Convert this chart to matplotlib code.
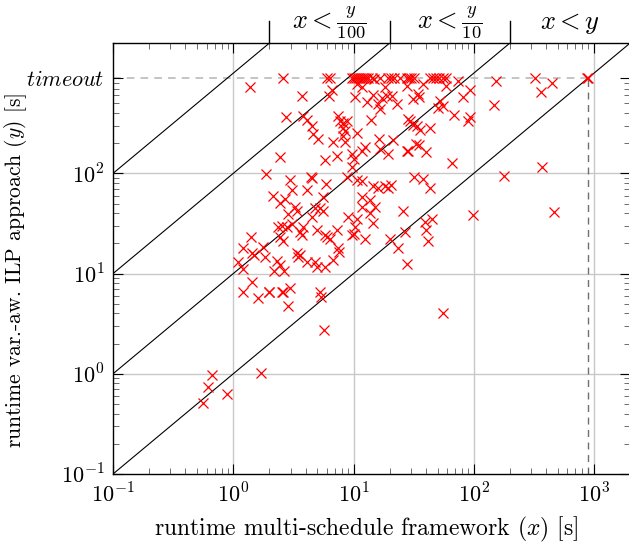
import numpy as np
import matplotlib
matplotlib.use("Agg")
import matplotlib.pyplot as plt
from matplotlib.ticker import FixedLocator, LogLocator, NullFormatter
import matplotlib.transforms as mtransforms

plt.rcParams['mathtext.fontset'] = 'cm'
plt.rcParams['axes.formatter.use_mathtext'] = True

# ---- data ----
TIMEOUT = 900
XMIN, XMAX = 0.1, 2000
YMIN, YMAX = 0.1, 2000

x_vals = [
    # timeouts
    2.6, 6.0, 6.4, 9.7, 10.1, 10.5, 10.9, 11.3, 11.8, 12.2, 12.7, 13.2, 14.2, 16.6, 19.3,
    20.5, 21.7, 24.3, 27.8, 28.9, 30, 31.8, 43, 45.7, 48.4, 51.3, 55.4, 58.7, 322, 870, 900,
    # upper region
    74, 152, 446, 362, 1.37, 3.7, 6.2, 6.6, 10.3, 10.7, 11.8, 12.9, 14.5, 15.9, 16.6, 17.2,
    18.9, 20.8, 22.9, 18.2, 14.9, 27.8, 38, 59, 34.5, 35.3, 31.5, 93, 81, 147, 52, 55, 50,
    68, 93, 89, 28.3, 29.5, 31, 33.5, 35.6, 43, 35, 40, 33, 28.3, 66, 32, 38, 43, 178, 370,
    466, 98, 26, 39, 45, 40, 41.5, 27, 28, 55,
    # middle-left
    2.74, 2.44, 1.87, 2.96, 3.8, 4.1, 4.5, 4.6, 5.1, 7.4, 7.7, 8.2, 8.8, 8.2, 8.5, 8.2, 8.5,
    6.7, 10.7, 14, 7.3, 5.8, 9.7, 10, 9.7, 11.7, 12.4, 16.3, 16.6, 19.3, 21.2, 27.8, 4.4,
    4.5, 5.9, 4.1, 8.8, 10.7, 11.7, 14.5, 16, 18.2, 19.3, 20.5,
    # middle
    2.14, 2.7, 2.44, 3.07, 2.85, 3.25, 3.4, 2.35, 2.54, 2.8, 3.1, 3.6, 3.8, 3.7, 2.44, 2.6,
    1.4, 1.2, 1.43, 1.5, 1.77, 1.83, 1.1, 1.2, 2.3, 2.45, 2.2, 2.65, 3.4, 3.45, 5.6, 4.8,
    5.3, 5.6, 4.5, 9, 10.7, 10.3, 10, 9.7, 12.4, 11.7, 13.6, 15, 11.7, 13.6, 14.5, 5, 5.8,
    6, 6.4, 7.3, 7.4, 7.6, 3.6, 4.1, 4.8, 5, 5.8, 6.7, 20, 23.4,
    # low
    1.43, 1.2, 1.6, 1.98, 2.0, 2.55, 2.6, 2.95, 2.85, 5.3, 5.4, 5.7, 0.665, 0.62, 0.89,
    0.56, 1.7,
]
y_vals = [
    # timeouts
    900, 900, 900, 900, 900, 900, 900, 900, 900, 900, 900, 900, 900, 900, 900,
    900, 900, 900, 900, 900, 900, 900, 900, 900, 900, 900, 900, 900, 900, 900, 900,
    # upper region
    830, 830, 794, 646, 725, 590, 590, 676, 575, 776, 725, 513, 600, 490, 437, 562,
    590, 590, 490, 725, 870, 740, 775, 740, 616, 575, 550, 676, 575, 478, 525, 465, 447,
    380, 363, 330, 347, 330, 302, 295, 269, 285, 191, 162, 195, 166, 126, 91, 87, 71, 95, 117,
    41, 38, 42, 33, 35, 27.5, 21, 26, 12.6, 4.0,
    # middle-left
    363, 145, 98, 85, 372, 340, 295, 245, 219, 372, 330, 316, 330, 282, 263, 234, 204,
    204, 251, 340, 148, 135, 155, 138, 117, 166, 182, 219, 174, 155, 214, 166, 93,
    89, 78, 69, 91, 85, 83, 74, 72, 74, 71, 76,
    # middle
    60, 55, 51, 68, 39, 46, 42, 29, 30, 29, 31, 26, 29, 24.5, 23.4, 21,
    23, 18, 16, 15.5, 18.6, 14.5, 12.9, 11, 13.2, 12.3, 10.5, 10.5, 16.2, 14.8, 57.5, 45,
    45, 42, 37, 37, 35, 29, 25, 24.5, 22, 57.5, 53.7, 46, 46, 40, 32, 27.5, 24.5,
    23.4, 22, 27, 18, 16.6, 15.5, 12.9, 12.9, 11.7, 11.7, 13.8, 22, 18,
    # low
    8.3, 6.6, 5.75, 6.6, 6.5, 6.6, 6.5, 7.1, 4.7, 6.5, 5.9, 2.75, 0.98, 0.74, 0.63,
    0.51, 1.02,
]

diag_ratios = [1, 10, 100, 1000]          # y = ratio * x
region_labels = [r'$x < \frac{y}{100}$', r'$x < \frac{y}{10}$', r'$x < y$']
x_ticks = [0.1, 1, 10, 100, 1000]
x_ticklabels = [r'$10^{-1}$', r'$10^{0}$', r'$10^{1}$', r'$10^{2}$', r'$10^{3}$']
y_ticks = [0.1, 1, 10, 100, TIMEOUT]
y_ticklabels = [r'$10^{-1}$', r'$10^{0}$', r'$10^{1}$', r'$10^{2}$', r'$\mathit{timeout}$']
grid_x = [1, 10, 100, 1000]
grid_y = [1, 10, 100]

# ---- figure ----
fig = plt.figure(figsize=(6.29, 5.43), dpi=100)
ax = fig.add_axes([0.1797, 0.1271, 0.8222, 0.7937])
ax.set_xscale('log')
ax.set_yscale('log')
ax.set_xlim(XMIN, XMAX)
ax.set_ylim(YMIN, YMAX)

grid_color = '#c8c8c8'
for g in grid_x:
    ax.axvline(g, color=grid_color, lw=1.0, zorder=0)
for g in grid_y:
    ax.axhline(g, color=grid_color, lw=1.0, zorder=0)

# timeout lines
ax.plot([XMIN, TIMEOUT], [TIMEOUT, TIMEOUT], ls=(0, (5, 4)), color='#b4b4b4', lw=1.1, zorder=1)
ax.plot([TIMEOUT, TIMEOUT], [YMIN, TIMEOUT], ls=(0, (5, 4)), color='#707070', lw=1.0, zorder=1)

# diagonals
xs = np.array([XMIN, XMAX])
for r in diag_ratios:
    ax.plot(xs, r * xs, color='black', lw=0.8, zorder=2)

ax.plot(x_vals, y_vals, linestyle='none', marker='x', color='#ff0000',
        markersize=6.5, markeredgewidth=0.9, zorder=3)

# top region markers
trans = mtransforms.blended_transform_factory(ax.transData, ax.transAxes)
bounds = [YMAX / r for r in diag_ratios[::-1]][:3]   # 2, 20, 200
for b in bounds:
    ax.plot([b, b], [1.0, 1.05], color='black', lw=1.0, transform=trans, clip_on=False)
edges = bounds + [XMAX]
for i, lab in enumerate(region_labels):
    xc = np.sqrt(edges[i] * edges[i + 1])
    ax.text(xc, 1.047, lab, transform=trans, ha='center', va='center', fontsize=19)

# ticks
ax.xaxis.set_major_locator(FixedLocator(x_ticks))
ax.set_xticklabels(x_ticklabels)
ax.yaxis.set_major_locator(FixedLocator(y_ticks))
ax.set_yticklabels(y_ticklabels)
ax.xaxis.set_minor_locator(LogLocator(base=10, subs=np.arange(2, 10), numticks=20))
ax.yaxis.set_minor_locator(LogLocator(base=10, subs=np.arange(2, 10), numticks=20))
ax.xaxis.set_minor_formatter(NullFormatter())
ax.yaxis.set_minor_formatter(NullFormatter())
ax.tick_params(which='both', direction='in', top=True, right=True, labelsize=16)
ax.tick_params(which='major', length=7, width=0.8, pad=6)
ax.tick_params(which='minor', length=4.5, width=0.6, color='#555555')
for sp in ax.spines.values():
    sp.set_linewidth(1.0)

ax.set_xlabel(r'runtime multi-schedule framework $(x)$ [s]', fontfamily='cmr10', fontsize=17)
ax.set_ylabel(r'runtime var.-aw. ILP approach $(y)$ [s]', fontfamily='cmr10', fontsize=15.5)
ax.xaxis.set_label_coords(0.49, -0.094)
ax.yaxis.set_label_coords(-0.188, 0.473)
ax.xaxis.label.set_va('top')
ax.yaxis.label.set_va('center')

fig.savefig('out.png', dpi=100)
